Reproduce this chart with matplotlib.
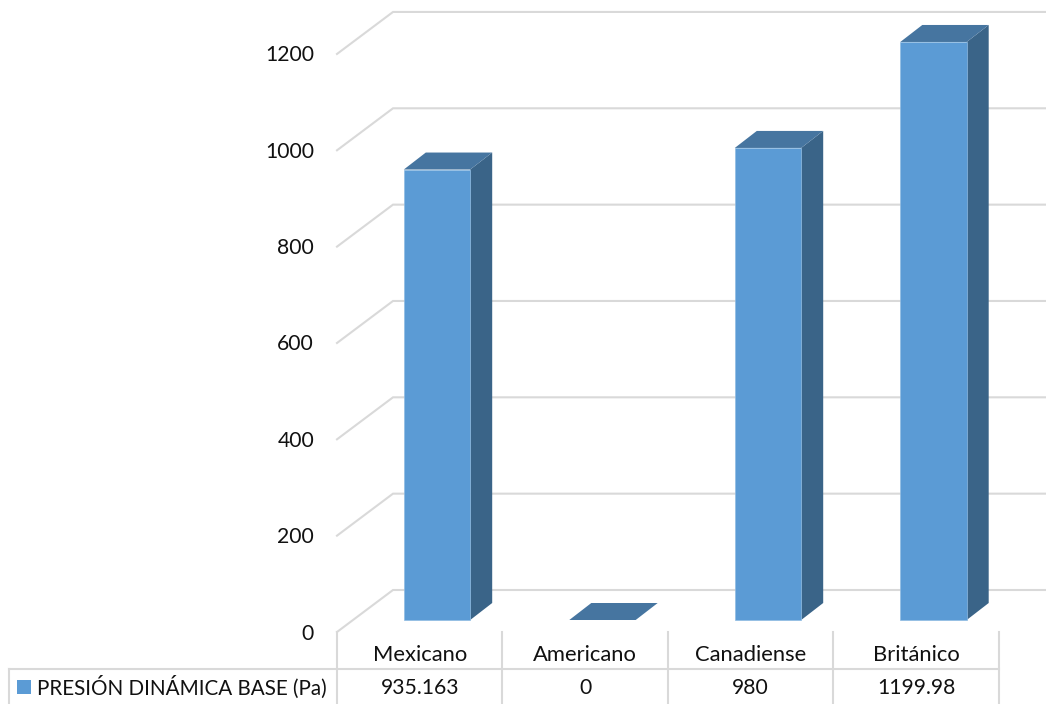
import matplotlib
matplotlib.use("Agg")
import matplotlib.pyplot as plt
from matplotlib.patches import Polygon, Rectangle

categories = ["Mexicano", "Americano", "Canadiense", "Británico"]
series_name = "PRESIÓN DINÁMICA BASE (Pa)"
values = [935.163, 0, 980, 1199.98]
value_labels = ["935.163", "0", "980", "1199.98"]
y_ticks = [0, 200, 400, 600, 800, 1000, 1200]

W, H = 1046, 704
STEP_PX = 165.5          # category spacing
UNIT_PX = 0.4817         # pixels per unit of value
X0_PX, Y0_PX = 437, 620  # centre of the first bar, base of the bars

FRONT = "#5B9BD5"
SIDE = "#3A6488"
TOP = "#4675A0"
GRID = "#D9D9D9"
TEXT = "#111111"
FONT = "Lato"
FS = 15.2
FS_CAT = 15.8
FS_SERIES = 14.9


def dx(px):
    return px / STEP_PX


def dy(px):
    return px / UNIT_PX


fig = plt.figure(figsize=(W / 100, H / 100), dpi=100, facecolor="white")
ax = fig.add_axes([0, 0, 1, 1])
ax.set_xlim(-X0_PX / STEP_PX, (W - X0_PX) / STEP_PX)
ax.set_ylim(-(H - Y0_PX) / UNIT_PX, Y0_PX / UNIT_PX)
ax.axis("off")

# Floor and back wall lines, running from the front edge to the back wall
x_front = dx(337 - X0_PX)
x_back = dx(393 - X0_PX)
y_front = dy(-12)
y_back = dy(30)
for v in y_ticks:
    ax.plot([x_front, x_back, dx(W - X0_PX)],
            [v + y_front, v + y_back, v + y_back],
            color=GRID, lw=1.5, solid_joinstyle="miter", zorder=1)
    ax.text(dx(314 - X0_PX), v + y_front - dy(1.5), str(v), ha="right",
            va="center", fontsize=FS, family=FONT, color=TEXT)

# Bars: front face, side face and top face
half = dx(33.2)
depth_x = dx(22)
depth_y = dy(17)
for i, v in enumerate(values):
    l, r = i - half, i + half
    ax.add_patch(Polygon([(r, 0), (r + depth_x, depth_y),
                          (r + depth_x, v + depth_y), (r, v)],
                         closed=True, fc=SIDE, ec="none", zorder=3))
    ax.add_patch(Polygon([(l, v), (r, v), (r + depth_x, v + depth_y),
                          (l + depth_x, v + depth_y)],
                         closed=True, fc=TOP, ec="none", zorder=3))
    if v > 0:
        ax.add_patch(Rectangle((l, 0), r - l, v, fc=FRONT, ec="#8FBBE2",
                               lw=0.5, zorder=4))

# Data table underneath the plot
table_x = [dx(337 + STEP_PX * k - X0_PX) for k in range(5)]
y_head = dy(-12)
y_row = dy(-49)
y_end = dy(-84)
for x in table_x:
    ax.plot([x, x], [y_head, y_end], color=GRID, lw=1.5, zorder=1)
x_left = dx(9 - X0_PX)
ax.plot([x_left, table_x[-1]], [y_row, y_row], color=GRID, lw=1.5, zorder=1)
ax.plot([x_left, x_left], [y_row, y_end], color=GRID, lw=1.5, zorder=1)

col_shift = dx(-17.3)
for i, (c, t) in enumerate(zip(categories, value_labels)):
    ax.text(i + col_shift, dy(-35), c, ha="center", va="center",
            fontsize=FS_CAT, family=FONT, color=TEXT)
    ax.text(i + col_shift, dy(-68), t, ha="center", va="center", fontsize=FS,
            family=FONT, color=TEXT)

# Legend key and series name in the table's first column
ax.add_patch(Rectangle((dx(17 - X0_PX), dy(-74)), dx(14), dy(14),
                       fc=FRONT, ec="none", zorder=3))
ax.text(dx(37 - X0_PX), dy(-67), series_name, ha="left", va="center",
        fontsize=FS_SERIES, family=FONT, color=TEXT)

fig.savefig("out.png", dpi=100, facecolor="white")
